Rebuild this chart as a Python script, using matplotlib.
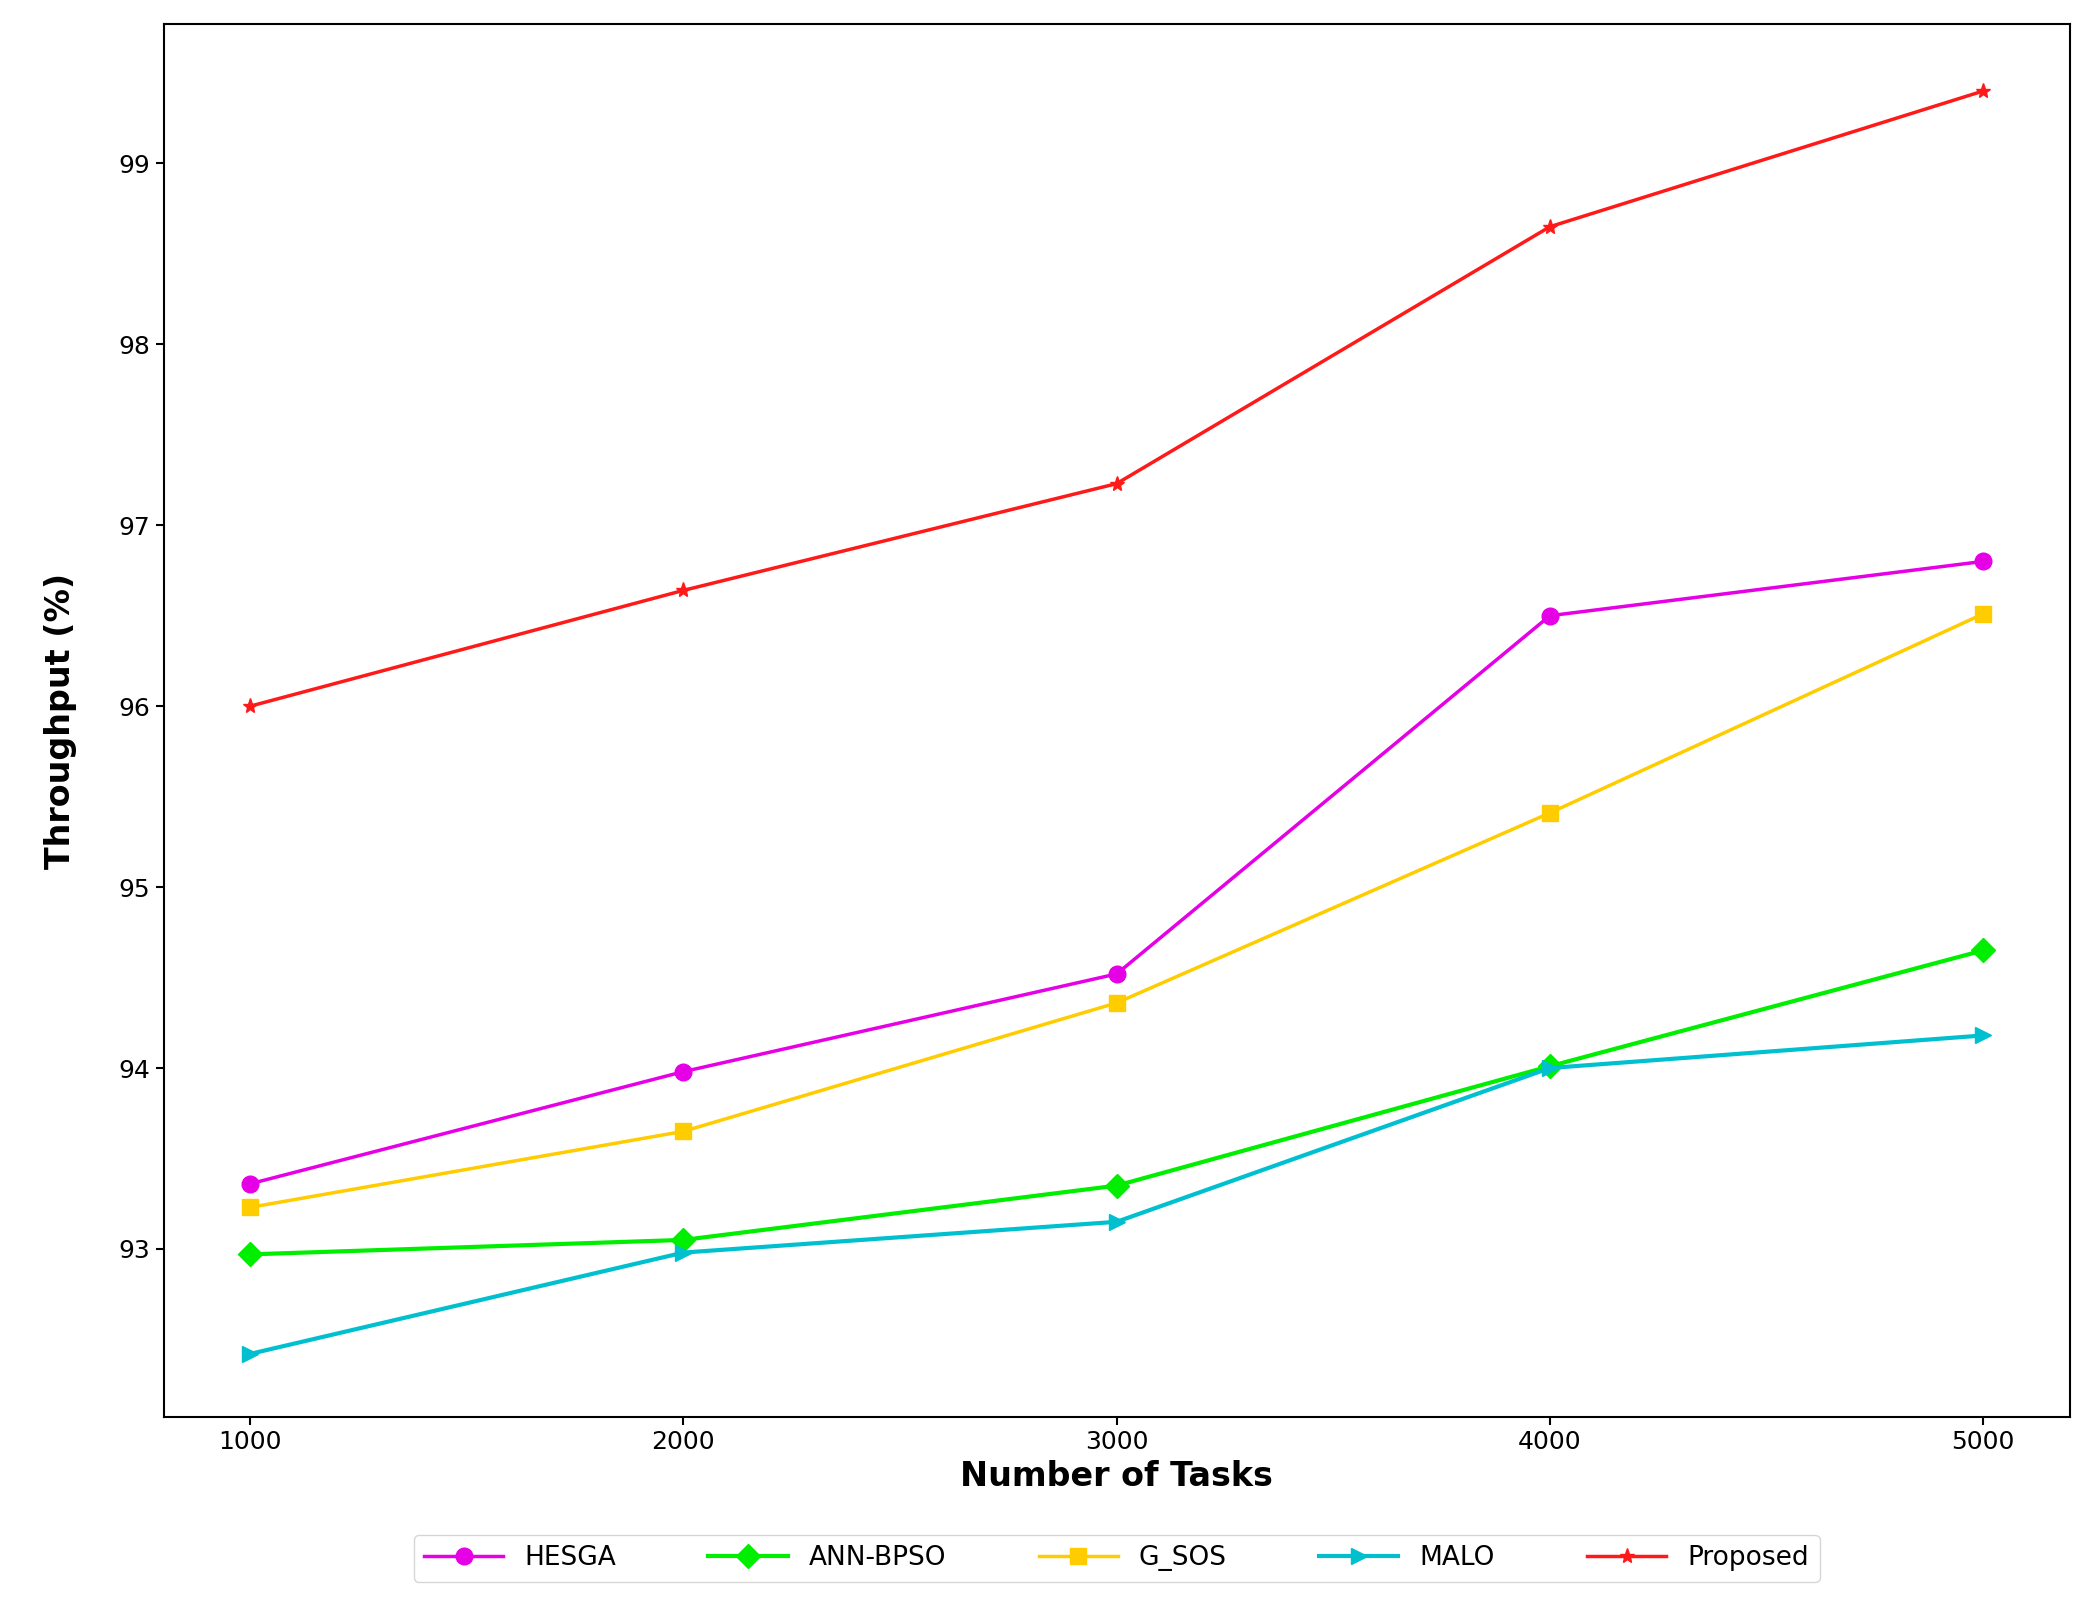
import matplotlib
matplotlib.use("Agg")
import matplotlib.pyplot as plt

tasks = [1000, 2000, 3000, 4000, 5000]
hesga = [93.36, 93.98, 94.52, 96.50, 96.80]
ann_bpso = [92.97, 93.05, 93.35, 94.01, 94.65]
g_sos = [93.23, 93.65, 94.36, 95.41, 96.51]
malo = [92.42, 92.98, 93.15, 94.00, 94.18]
proposed = [96.00, 96.64, 97.23, 98.65, 99.40]

fig = plt.figure(figsize=(20.97, 16.05), dpi=100)
ax = fig.add_axes([0.078, 0.117, 0.909, 0.868])
ax.plot(tasks, hesga, color='#e600e6', marker='o', markersize=12, lw=2.5, label='HESGA')
ax.plot(tasks, ann_bpso, color='#00ee00', marker='D', markersize=12, lw=3, label='ANN-BPSO')
ax.plot(tasks, g_sos, color='#ffcc00', marker='s', markersize=12, lw=2.5, label='G_SOS')
ax.plot(tasks, malo, color='#00c0d0', marker='>', markersize=12, lw=3, label='MALO')
ax.plot(tasks, proposed, color='#ff1a1a', marker='*', markersize=11, lw=2.5, label='Proposed')
ax.set_ylim(92.07, 99.77)
ax.set_xticks(tasks)
ax.set_yticks([93, 94, 95, 96, 97, 98, 99])
ax.tick_params(labelsize=18, width=1.5, length=6)
for s in ax.spines.values():
    s.set_linewidth(1.5)
ax.set_xlabel('Number of Tasks', fontsize=24, fontweight='bold', labelpad=4)
ax.set_ylabel('Throughput (%)', fontsize=24, fontweight='bold', labelpad=30)
ax.legend(loc='upper center', bbox_to_anchor=(0.5, -0.075), ncol=5, fontsize=19,
          frameon=True, handlelength=3, columnspacing=3.5)
fig.savefig('out.png', dpi=100)
